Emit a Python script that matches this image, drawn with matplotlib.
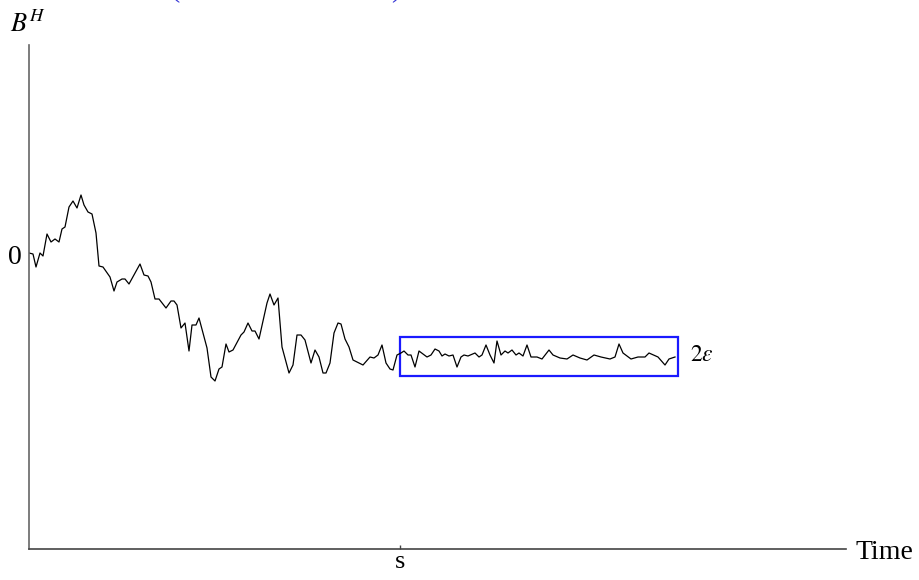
import numpy as np
import matplotlib
matplotlib.use("Agg")
import matplotlib.pyplot as plt
from matplotlib.patches import Rectangle

plt.rcParams['font.family'] = ['Liberation Serif', 'DejaVu Serif']
plt.rcParams['mathtext.fontset'] = 'stix'

# path of B^H (time in arbitrary units, s = 371)
t = np.array([0, 4, 7, 11, 14, 18, 22, 26, 30, 33,
              36, 40, 44, 48, 52, 55, 59, 63, 67, 70,
              74, 81, 85, 88, 93, 96, 100, 111, 115, 119,
              122, 126, 130, 137, 142, 145, 148, 152, 156, 160,
              163, 167, 170, 178, 182, 186, 190, 193, 197, 200,
              204, 212, 215, 219, 223, 226, 230, 238, 241, 245,
              249, 253, 260, 264, 268, 272, 276, 282, 286, 290,
              294, 297, 301, 305, 309, 312, 316, 320, 324, 328,
              334, 341, 345, 349, 353, 357, 361, 364, 368,
              372, 375, 379, 382, 386, 390, 394, 398, 402, 406,
              410, 413, 416, 420, 424, 428, 432, 435, 439, 446,
              450, 453, 457, 461, 465, 468, 472, 476, 479, 483,
              487, 490, 494, 498, 502, 508, 513, 520, 524, 531,
              538, 544, 551, 558, 565, 572, 581, 586, 590, 594,
              602, 609, 616, 620, 629, 636, 640, 646])
b = np.array([2, 1, -12, 2, -1, 21, 13, 16, 13, 26,
              28, 48, 54, 47, 60, 50, 43, 41, 22, -11,
              -12, -22, -36, -27, -24, -24, -29, -9, -20, -21,
              -27, -44, -44, -53, -46, -46, -50, -73, -68, -96,
              -70, -70, -63, -93, -122, -126, -114, -112, -89, -97,
              -95, -80, -77, -68, -76, -76, -84, -48, -39, -50,
              -43, -92, -118, -110, -80, -80, -85, -108, -95, -102,
              -118, -118, -108, -78, -68, -69, -84, -92, -105, -107,
              -110, -102, -103, -100, -90, -108, -114, -115, -100,
              -98, -96, -100, -100, -112, -96, -99, -102, -100, -94,
              -96, -101, -99, -101, -100, -112, -102, -100, -101, -98,
              -102, -100, -90, -100, -108, -86, -100, -96, -98, -95,
              -100, -98, -101, -90, -102, -102, -104, -95, -100, -103,
              -104, -100, -103, -105, -100, -102, -104, -102, -89, -98,
              -104, -102, -102, -98, -102, -110, -104, -102])

s = 371
t_end = 649
level = -101.5
eps = 19.5

fig = plt.figure(figsize=(9.2, 5.8), dpi=100)
ax = fig.add_axes([29 / 920, 1 - 549 / 580, (846 - 29) / 920, (549 - 45) / 580])

ax.plot(t, b, color='black', lw=0.9)
ax.add_patch(Rectangle((s, level - eps), t_end - s, 2 * eps,
                       fill=False, edgecolor='#1a1aff', lw=1.6))
ax.text(t_end + 12, level - 4.5, r'$2\varepsilon$', fontsize=17,
        ha='left', va='baseline')

ax.set_xlim(0, 817)
ax.set_ylim(-294, 210)
for side in ['top', 'right']:
    ax.spines[side].set_visible(False)
ax.spines['left'].set_color('#666666')
ax.spines['bottom'].set_color('#444444')
ax.spines['left'].set_linewidth(1.2)
ax.spines['bottom'].set_linewidth(1.2)

ax.set_xticks([s])
ax.set_xticklabels(['s'], fontsize=19)
ax.tick_params(axis='x', direction='in', length=3, width=1, color='#444444', pad=1.5)
ax.set_yticks([0])
ax.set_yticklabels(['0'], fontsize=20)
ax.tick_params(axis='y', length=0, pad=5)

ax.annotate('Time', xy=(1, 0), xycoords='axes fraction',
            xytext=(7.2, -7.2), textcoords='offset points',
            fontsize=20, ha='left', va='baseline', annotation_clip=False)
ax.annotate(r'$B^H$', xy=(0, 1), xycoords='axes fraction',
            xytext=(-14, 9.4), textcoords='offset points',
            fontsize=19, ha='left', va='baseline', annotation_clip=False)

# blue caption cut off at the top edge
fig.text(175 / 920, 1 + 2.6 / 580, '(', color='#3535d5', fontsize=20,
         ha='center', va='baseline')
fig.text(396 / 920, 1 + 2.6 / 580, ')', color='#3535d5', fontsize=20,
         ha='center', va='baseline')

fig.savefig('out.png', dpi=100)
